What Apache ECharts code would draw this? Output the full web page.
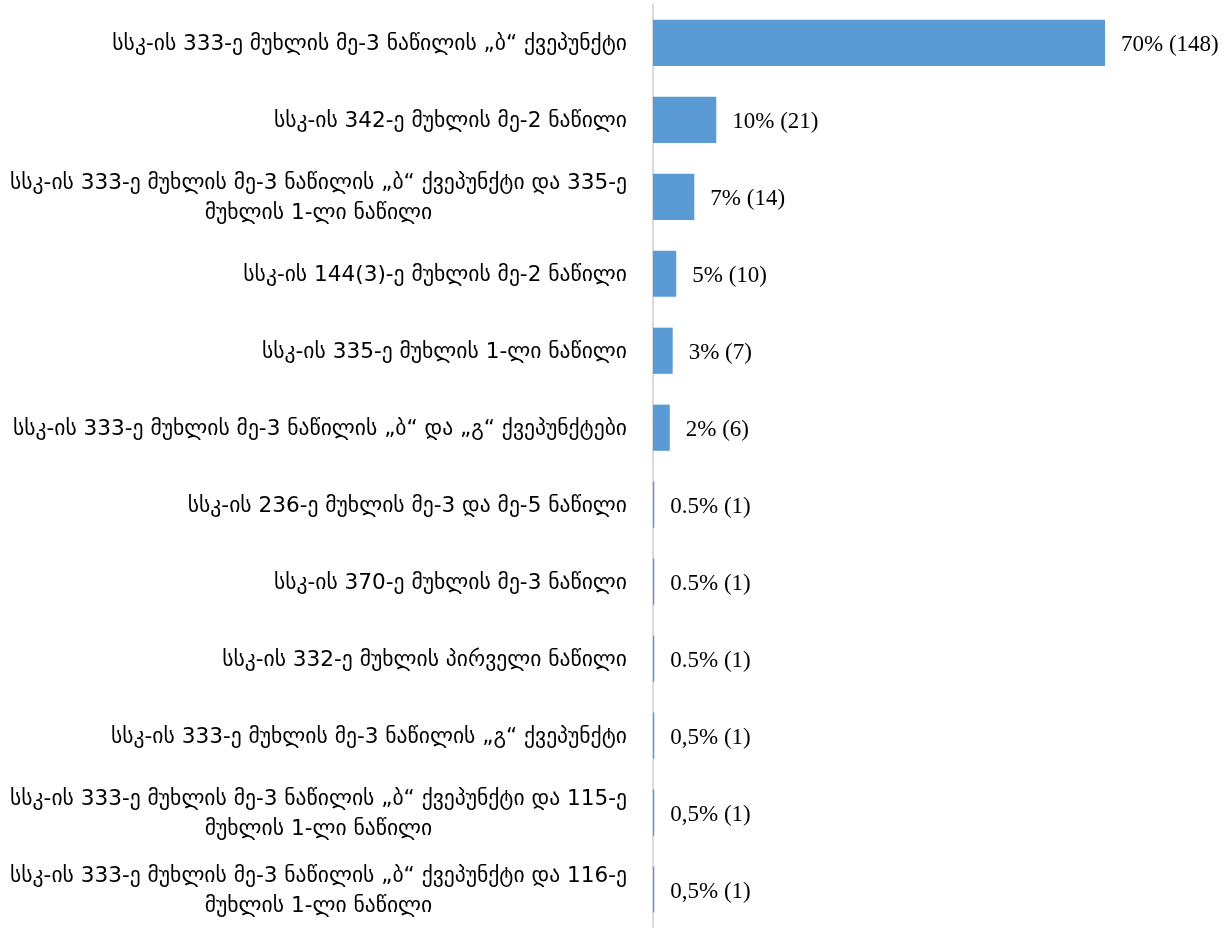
<!DOCTYPE html>
<html>
<head>
<meta charset="utf-8">
<script src="https://cdn.jsdelivr.net/npm/echarts@6/dist/echarts.min.js"></script>
<style>
html,body{margin:0;padding:0;background:#fff;}
#chart{width:1230px;height:928px;}
</style>
</head>
<body>
<div id="chart"></div>
<script>
const categories = [
  'სსკ-ის 333-ე მუხლის მე-3 ნაწილის „ბ“ ქვეპუნქტი',
  'სსკ-ის 342-ე მუხლის მე-2 ნაწილი',
  'სსკ-ის 333-ე მუხლის მე-3 ნაწილის „ბ“ ქვეპუნქტი და 335-ე\nმუხლის 1-ლი ნაწილი',
  'სსკ-ის 144(3)-ე მუხლის მე-2 ნაწილი',
  'სსკ-ის 335-ე მუხლის 1-ლი ნაწილი',
  'სსკ-ის 333-ე მუხლის მე-3 ნაწილის „ბ“ და „გ“ ქვეპუნქტები',
  'სსკ-ის 236-ე მუხლის მე-3 და მე-5 ნაწილი',
  'სსკ-ის 370-ე მუხლის მე-3 ნაწილი',
  'სსკ-ის 332-ე მუხლის პირველი ნაწილი',
  'სსკ-ის 333-ე მუხლის მე-3 ნაწილის „გ“ ქვეპუნქტი',
  'სსკ-ის 333-ე მუხლის მე-3 ნაწილის „ბ“ ქვეპუნქტი და 115-ე\nმუხლის 1-ლი ნაწილი',
  'სსკ-ის 333-ე მუხლის მე-3 ნაწილის „ბ“ ქვეპუნქტი და 116-ე\nმუხლის 1-ლი ნაწილი'
];
const values = [70, 9.8, 6.4, 3.6, 3.05, 2.6, 0.2, 0.2, 0.2, 0.2, 0.2, 0.2];
const valueLabels = ['70% (148)', '10% (21)', '7% (14)', '5% (10)', '3% (7)', '2% (6)',
  '0.5% (1)', '0.5% (1)', '0.5% (1)', '0,5% (1)', '0,5% (1)', '0,5% (1)'];

const chart = echarts.init(document.getElementById('chart'), null, {renderer: 'canvas'});
chart.setOption({
  animation: false,
  backgroundColor: '#ffffff',
  grid: {left: 653, top: 4.4, width: 516.6, height: 927.3, containLabel: false},
  xAxis: {
    type: 'value', min: 0, max: 80, show: false
  },
  yAxis: {
    type: 'category',
    data: categories,
    inverse: true,
    offset: 1,
    axisLine: {show: true, lineStyle: {color: '#d9d9d9', width: 2}},
    axisTick: {show: false},
    splitLine: {show: false},
    axisLabel: {
      margin: 25,
      align: 'right',
      color: '#000',
      fontFamily: 'DejaVu Sans',
      fontSize: 21.6,
      lineHeight: 30,
      padding: [4, 0, 0, 0],
      formatter: function (v) {
        return v.split('\n').map(function (l) { return '{c|' + l + '}'; }).join('\n');
      },
      rich: {
        c: {align: 'center', fontFamily: 'DejaVu Sans', fontSize: 21.6, lineHeight: 30, color: '#000'}
      }
    }
  },
  series: [{
    type: 'bar',
    data: values,
    barCategoryGap: '40%',
    itemStyle: {color: '#5b9bd5'},
    label: {
      show: true,
      position: 'right',
      distance: 16,
      offset: [0, 2],
      color: '#000',
      fontFamily: 'Liberation Serif',
      fontSize: 23,
      formatter: function (p) { return valueLabels[p.dataIndex]; }
    }
  }]
});
</script>
</body>
</html>
